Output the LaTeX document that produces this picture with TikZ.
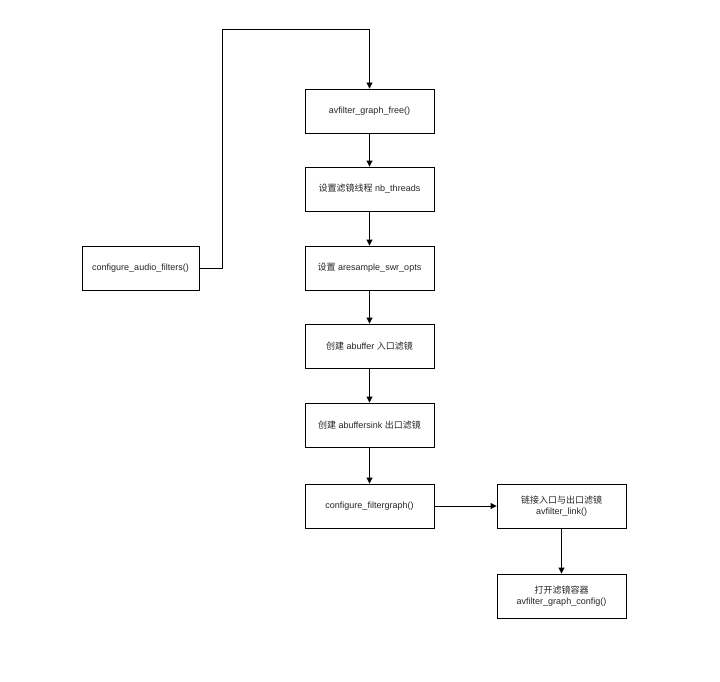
\documentclass[tikz,border=0pt]{standalone}
\usepackage{fontspec}
\setmainfont{Liberation Sans}
\newfontfamily\cjk{Noto Sans CJK SC}
\usetikzlibrary{arrows.meta}
\begin{document}
\begin{tikzpicture}[x=1pt,y=-1pt,
  box/.style={draw=black,line width=0.9pt,minimum width=129pt,minimum height=44pt,inner sep=1pt,font=\fontsize{9}{11}\selectfont,align=center,text=black!85},
  conn/.style={draw=black,line width=0.9pt,-{Triangle[length=6pt,width=6pt]}}]
\useasboundingbox[fill=white] (0,0) rectangle (720,682);
\node[box] (free) at (369.5,111) {avfilter\_graph\_free()};
\node[box] (thr) at (369.5,189) {{\cjk 设置滤镜线程} nb\_threads};
\node[box] (swr) at (369.5,268) {{\cjk 设置} aresample\_swr\_opts};
\node[box] (abuf) at (369.5,346) {{\cjk 创建} abuffer {\cjk 入口滤镜}};
\node[box] (asink) at (369.5,425) {{\cjk 创建} abuffersink {\cjk 出口滤镜}};
\node[box] (cfg) at (369.5,506) {configure\_filtergraph()};
\node[box,minimum width=117pt] (caf) at (140.5,268) {configure\_audio\_filters()};
\node[box] (link) at (561.5,506) {{\cjk 链接入口与出口滤镜}\\avfilter\_link()};
\node[box] (open) at (561.5,596) {{\cjk 打开滤镜容器}\\avfilter\_graph\_config()};
\coordinate (c1) at (222,268);
\coordinate (c2) at (222,29);
\coordinate (c3) at (369.5,29);
\draw[conn] (caf.east) -- (c1) -- (c2) -- (c3) -- (free.north);
\draw[conn] (free) -- (thr);
\draw[conn] (thr) -- (swr);
\draw[conn] (swr) -- (abuf);
\draw[conn] (abuf) -- (asink);
\draw[conn] (asink) -- (cfg);
\draw[conn] (cfg) -- (link);
\draw[conn] (link) -- (open);
\end{tikzpicture}
\end{document}
